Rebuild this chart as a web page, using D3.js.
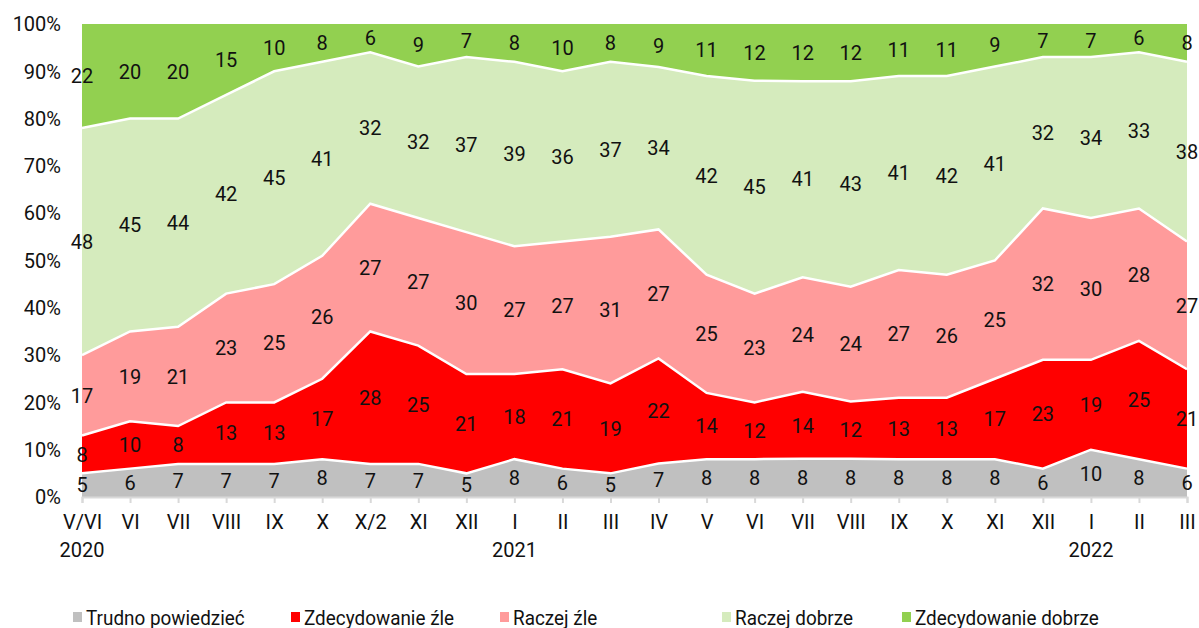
<!DOCTYPE html>
<html><head><meta charset="utf-8">
<script src="https://cdn.jsdelivr.net/npm/d3@7"></script>
<style>body{margin:0;background:#fff}svg{display:block}</style>
</head><body><svg id="c" width="1199" height="628"></svg>
<script>
const categories = ["V/VI","VI","VII","VIII","IX","X","X/2","XI","XII","I","II","III","IV","V","VI","VII","VIII","IX","X","XI","XII","I","II","III"];
const yearLabels = [{i:0,t:"2020"},{i:9,t:"2021"},{i:21,t:"2022"}];
const seriesNames = ["Trudno powiedzieć","Zdecydowanie źle","Raczej źle","Raczej dobrze","Zdecydowanie dobrze"];
const trudno = [5,6,7,7,7,8,7,7,5,8,6,5,7,8,8,8,8,8,8,8,6,10,8,6];
const zdecZle = [8,10,8,13,13,17,28,25,21,18,21,19,22,14,12,14,12,13,13,17,23,19,25,21];
const raczejZle = [17,19,21,23,25,26,27,27,30,27,27,31,27,25,23,24,24,27,26,25,32,30,28,27];
const raczejDobrze = [48,45,44,42,45,41,32,32,37,39,36,37,34,42,45,41,43,41,42,41,32,34,33,38];
const zdecDobrze = [22,20,20,15,10,8,6,9,7,8,10,8,9,11,12,12,12,11,11,9,7,7,6,8];
const yTicks = [0,10,20,30,40,50,60,70,80,90,100];
const colors = ["#c0c0c0","#ff0000","#ff9b9b","#d5ebbd","#92d050"];

const seriesVals = [trudno, zdecZle, raczejZle, raczejDobrze, zdecDobrze];
const rows = categories.map((c,i)=>{const o={i}; seriesNames.forEach((n,k)=>o[n]=seriesVals[k][i]); return o;});
const stack = d3.stack().keys(seriesNames).offset(d3.stackOffsetExpand)(rows);

const svg = d3.select("#c");
const x = d3.scaleLinear().domain([0, categories.length-1]).range([82, 1187]);
const y = d3.scaleLinear().domain([0,1]).range([497, 24]);
const yPct = d3.scaleLinear().domain([0,100]).range([497, 24]);

const area = d3.area().x(d=>x(d.data.i)).y0(d=>y(d[0])).y1(d=>y(d[1]));
svg.append("g").selectAll("path").data(stack).join("path")
  .attr("d", area).attr("fill",(d,k)=>colors[k]);
const line = d3.line().x(d=>x(d.data.i)).y(d=>y(d[1]));
svg.append("g").selectAll("path").data(stack.slice(0,4)).join("path")
  .attr("d", line).attr("fill","none").attr("stroke","#fff").attr("stroke-width",2.5);

svg.append("g").selectAll("text").data(yTicks).join("text")
  .attr("x",61).attr("y",d=>yPct(d)).attr("dy","0.36em").attr("text-anchor","end")
  .attr("font-family","Roboto").attr("font-size",20).attr("fill","#111")
  .text(d=>d+"%");

const xa = svg.append("g").attr("transform","translate(0,497)")
  .call(d3.axisBottom(x).tickValues(d3.range(categories.length)).tickFormat(i=>categories[i]).tickSize(6).tickPadding(12));
xa.select(".domain").attr("stroke","#d9d9d9").attr("stroke-width",2);
xa.selectAll(".tick line").attr("stroke","#d9d9d9").attr("stroke-width",2);
xa.selectAll(".tick text").attr("font-family","Roboto").attr("font-size",20).attr("fill","#111");
svg.append("g").selectAll("text").data(yearLabels).join("text")
  .attr("x",d=>x(d.i)).attr("y",557).attr("text-anchor","middle")
  .attr("font-family","Roboto").attr("font-size",20).attr("fill","#111").text(d=>d.t);

const lg = svg.append("g");
stack.forEach((s,k)=>{
  lg.selectAll(null).data(s).join("text")
    .attr("x",d=>x(d.data.i)).attr("y",d=>y((d[0]+d[1])/2)).attr("dy","0.36em")
    .attr("text-anchor","middle").attr("font-family","Roboto").attr("font-size",20).attr("fill","#111")
    .text(d=>seriesVals[k][d.data.i]);
});

const legX = [73,291,500,722,902];
const leg = svg.append("g").selectAll("g").data(seriesNames).join("g")
  .attr("transform",(d,k)=>`translate(${legX[k]},0)`);
leg.append("rect").attr("x",0).attr("y",612).attr("width",9).attr("height",10).attr("fill",(d,k)=>colors[k]);
leg.append("text").attr("transform","translate(13,625) scale(0.9,1)")
  .attr("font-family","Roboto").attr("font-size",21).attr("fill","#111").text(d=>d);
</script></body></html>
